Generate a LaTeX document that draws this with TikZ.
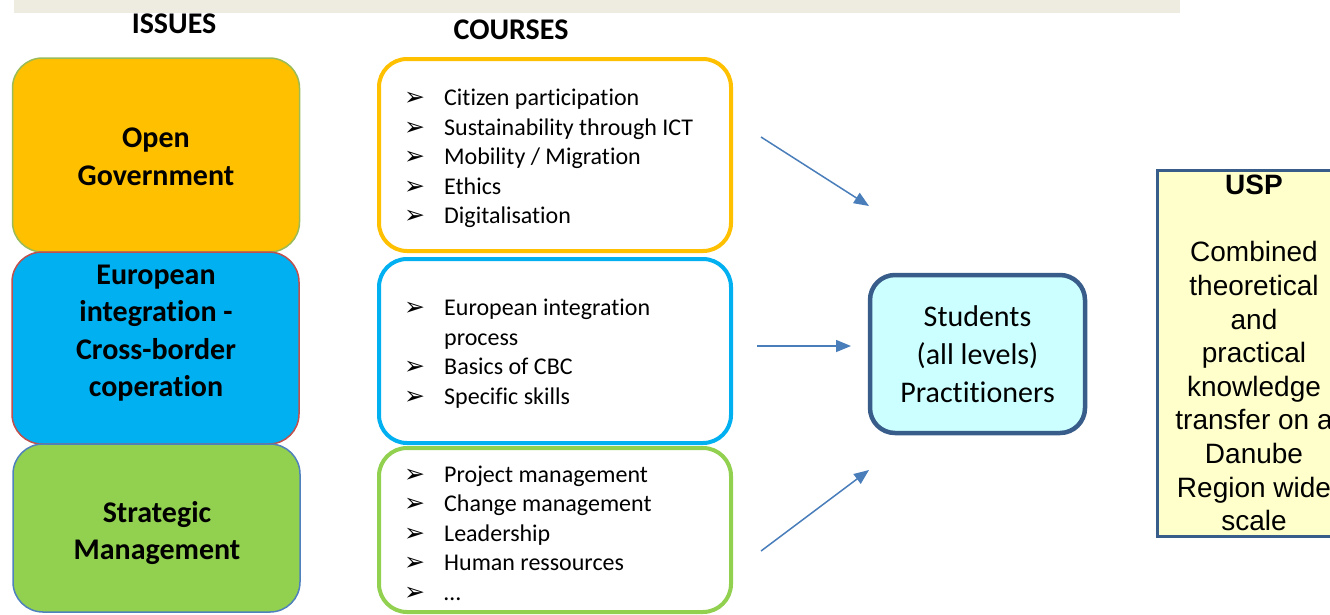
\documentclass[tikz,border=0pt]{standalone}
\usepackage{fontspec}
\setmainfont{Carlito}[Ligatures={NoCommon,NoContextual}]
\newfontfamily\dejavu{DejaVu Sans}
\newfontfamily\arialf{Liberation Sans}
\usetikzlibrary{arrows.meta}
\definecolor{ogfill}{HTML}{FFC000}
\definecolor{eufill}{HTML}{00B0F0}
\definecolor{smfill}{HTML}{92D050}
\definecolor{ogline}{HTML}{9BBB59}
\definecolor{euline}{HTML}{C0504D}
\definecolor{smline}{HTML}{4F81BD}
\definecolor{arrcol}{HTML}{4A7EBB}
\definecolor{darkline}{HTML}{385D8A}
\definecolor{stfill}{HTML}{CCFFFF}
\definecolor{uspfill}{HTML}{FFFFCC}
\definecolor{bandcol}{HTML}{EEECE1}
\newcommand\bul{\makebox[38pt][l]{\hspace{-2pt}\dejavu\fontsize{25}{25}\selectfont ➢}}
\newcommand\nob{\makebox[38pt][l]{}}
\tikzset{
  issuebox/.style={draw, line width=1.5pt, rounded corners=30pt, minimum width=287pt, inner sep=0pt},
  issuetext/.style={font=\fontsize{30}{37.5}\selectfont\bfseries, align=center, inner sep=0pt},
  coursebox/.style={draw, fill=white, line width=4pt, rounded corners=28pt, minimum width=352pt, inner sep=0pt},
  courselist/.style={anchor=west, inner sep=0pt, align=left, font=\fontsize{24}{29.5}\selectfont},
  header/.style={font=\fontsize{30}{36}\selectfont\bfseries, inner sep=0pt},
  flow/.style={draw=arrcol, line width=1.5pt, -{Triangle[length=15pt, width=12pt]}},
}
\begin{document}
\begin{tikzpicture}[x=1pt,y=-1pt]
\useasboundingbox (0,0) rectangle (1330,614);
\clip (0,0) rectangle (1330,614);
\fill[bandcol] (14,0) rectangle (1180,13);

\node[header] (hissues) at (174,24) {ISSUES};
\node[header] (hcourses) at (511,30) {COURSES};

% issue boxes
\node[issuebox, fill=ogfill, draw=ogline, minimum height=194pt] (og) at (156,155) {};
\node[issuebox, fill=eufill, draw=euline, minimum height=192pt] (eu) at (155.5,348) {};
\node[issuebox, fill=smfill, draw=smline, minimum height=168pt] (sm) at (156.5,528) {};
\node[issuetext] (ogt) at (156,157) {Open\\Government};
\node[issuetext] (eut) at (156,333) {European\\integration -\\Cross-border\\coperation};
\node[issuetext] (smt) at (157,533) {Strategic\\Management};

% course boxes
\node[coursebox, draw=ogfill, minimum height=192pt] (c1) at (555,155) {};
\node[coursebox, draw=eufill, minimum height=184pt] (c2) at (555,351) {};
\node[coursebox, draw=smfill, minimum height=164pt] (c3) at (555,530) {};
\node[courselist] (c1t) at (406,158.5) {\bul Citizen participation\\\bul Sustainability through ICT\\\bul Mobility / Migration\\\bul Ethics\\\bul Digitalisation};
\node[courselist] (c2t) at (406,353.5) {\bul European integration\\\nob process\\\bul Basics of CBC\\\bul Specific skills};
\node[courselist] (c3t) at (406,533) {\bul Project management\\\bul Change management\\\bul Leadership\\\bul Human ressources\\\bul …};

% students
\node[draw=darkline, fill=stfill, line width=4.5pt, rounded corners=25pt, minimum width=215pt, minimum height=158pt, inner sep=0pt, align=center, font=\fontsize{30}{38}\selectfont] (st) at (977.5,354) {Students\\ (all levels)\\Practitioners};

% USP
\node[draw=darkline, fill=uspfill, line width=3pt, minimum width=194pt, minimum height=366pt, inner sep=0pt, align=center, font=\arialf\fontsize{28}{33.6}\selectfont] (usp) at (1254,353) {\textbf{USP}\\ \\Combined\\theoretical\\and\\practical\\knowledge\\transfer on a\\Danube\\Region wide\\scale};

% arrows
\coordinate (a1s) at (761,137);
\coordinate (a1e) at (869,206);
\coordinate (a2s) at (757,346);
\coordinate (a2e) at (851,346);
\coordinate (a3s) at (761,551);
\coordinate (a3e) at (869,470);
\draw[flow] (a1s) -- (a1e);
\draw[flow] (a2s) -- (a2e);
\draw[flow] (a3s) -- (a3e);
\end{tikzpicture}
\end{document}
